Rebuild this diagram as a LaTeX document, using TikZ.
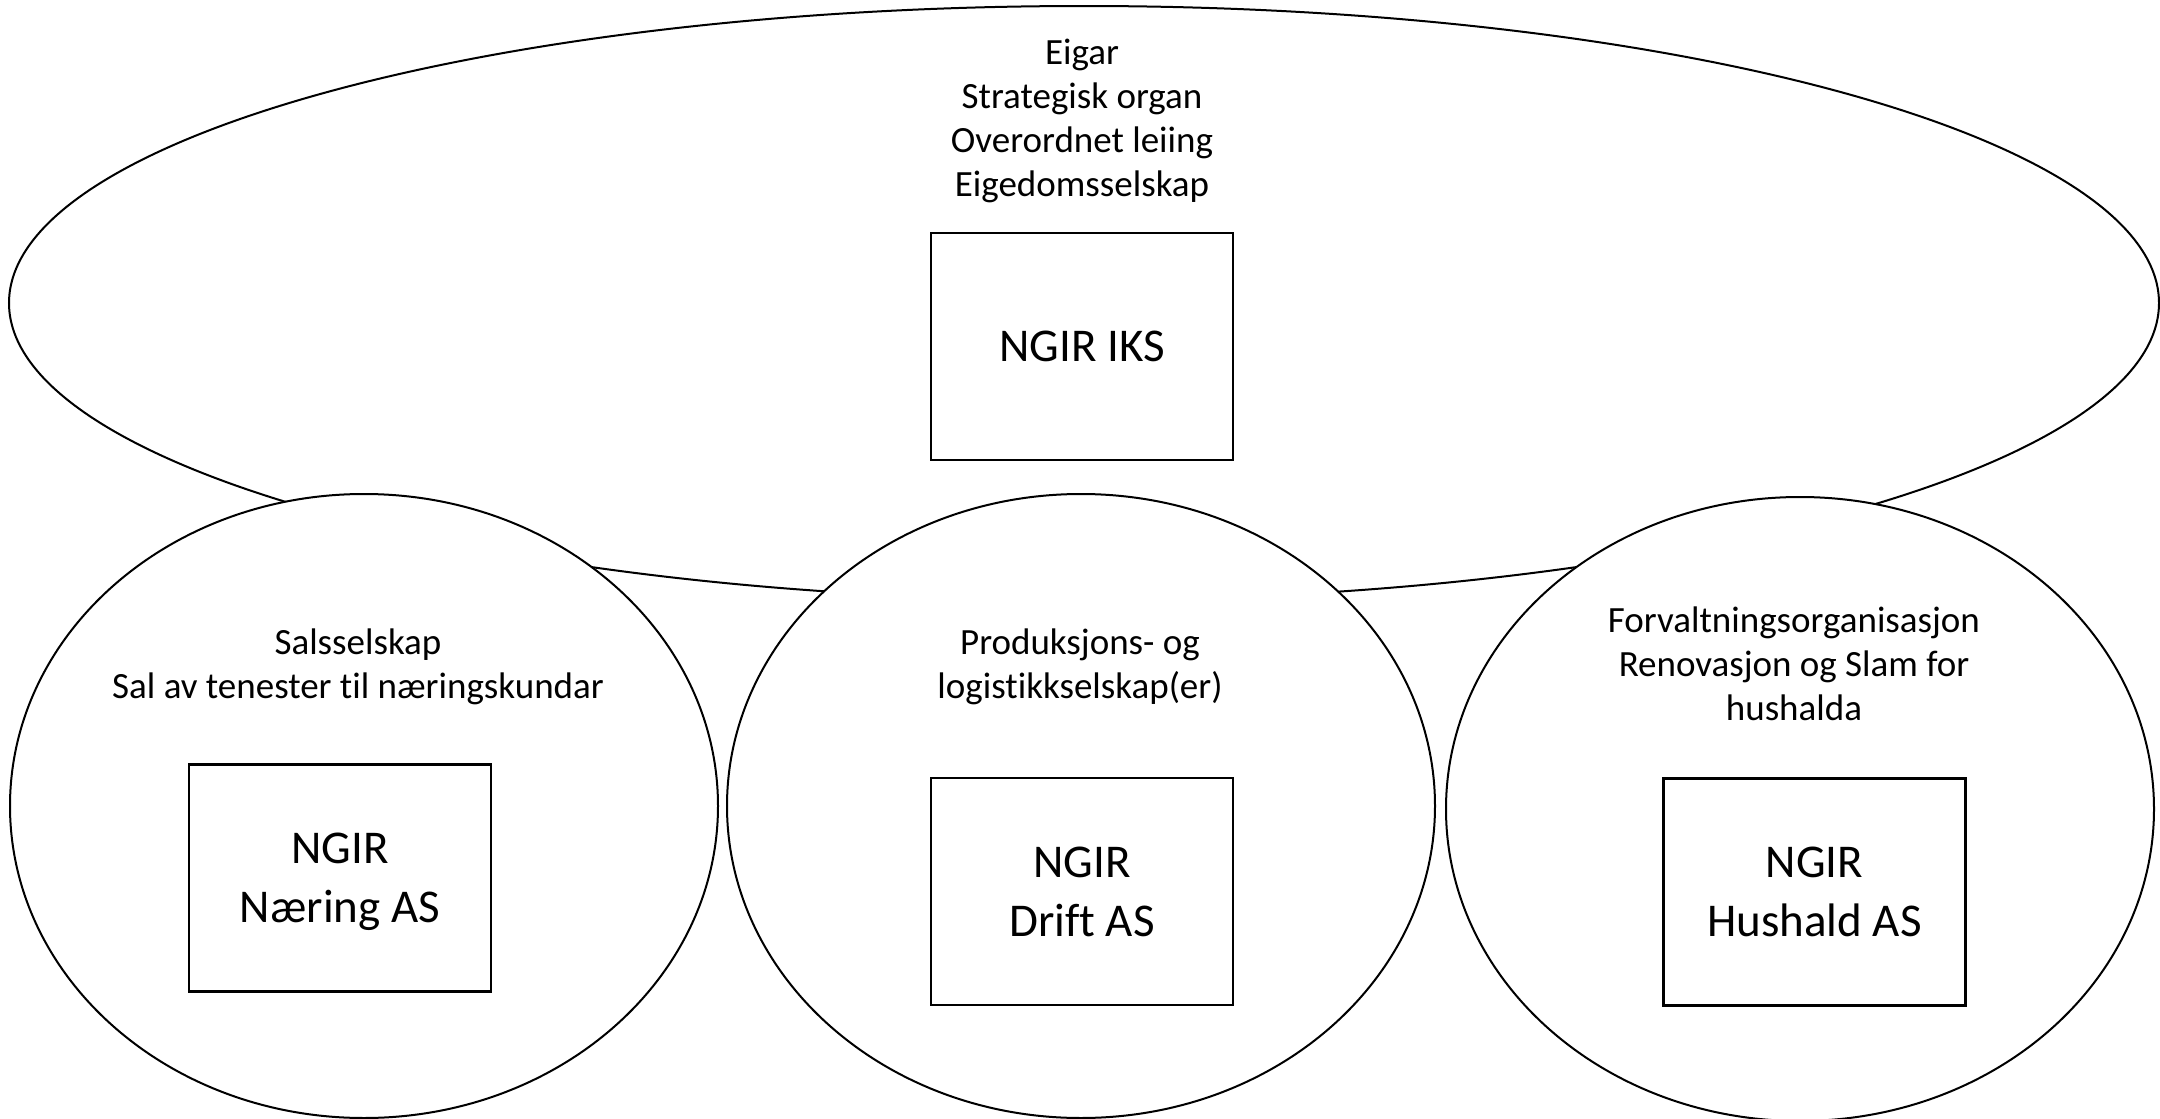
\documentclass[tikz,border=0pt]{standalone}
\usepackage{fontspec}
\setmainfont{Carlito}[Ligatures=NoCommon]
\usetikzlibrary{shapes.geometric}
\begin{document}
\begin{tikzpicture}[x=0.5pt,y=-0.5pt,
  oval/.style={draw, ellipse, line width=1pt, inner sep=0pt},
  bigoval/.style={oval, minimum width=1075pt, minimum height=297pt},
  suboval/.style={oval, fill=white, minimum width=354pt, minimum height=312pt},
  company/.style={draw, rectangle, line width=1.05pt, minimum width=151pt, minimum height=113.5pt, inner sep=0pt, align=center, text depth=0pt, font=\fontsize{23.5pt}{29.5pt}\selectfont},
  role/.style={align=center, anchor=base, inner sep=0pt, font=\fontsize{18.5pt}{22pt}\selectfont}]
\useasboundingbox (0,0) rectangle (2160,1119);
\fill[white] (0,0) rectangle (2160,1119);
\node[bigoval] (own) at (1084,303) {};
\node[suboval] (sal) at (364,806) {};
\node[suboval] (prod) at (1081,806) {};
\node[suboval] (forv) at (1800,809) {};
\node[company] (iks) at (1082,346.5) {NGIR IKS};
\node[company] (naering) at (340,878) {NGIR\\Næring AS};
\node[company] (drift) at (1082,891.5) {NGIR\\Drift AS};
\node[company] (hushald) at (1814.5,892) {NGIR\\Hushald AS};
\node[role] (ownlbl) at (1082,196) {Eigar\\Strategisk organ\\Overordnet leiing\\Eigedomsselskap};
\node[role] (sallbl) at (358,698) {Salsselskap\\Sal av tenester til næringskundar};
\node[role] (prodlbl) at (1080,698) {Produksjons- og\\logistikkselskap(er)};
\node[role] (forvlbl) at (1794,720) {Forvaltningsorganisasjon\\Renovasjon og Slam for\\hushalda};
\end{tikzpicture}
\end{document}
